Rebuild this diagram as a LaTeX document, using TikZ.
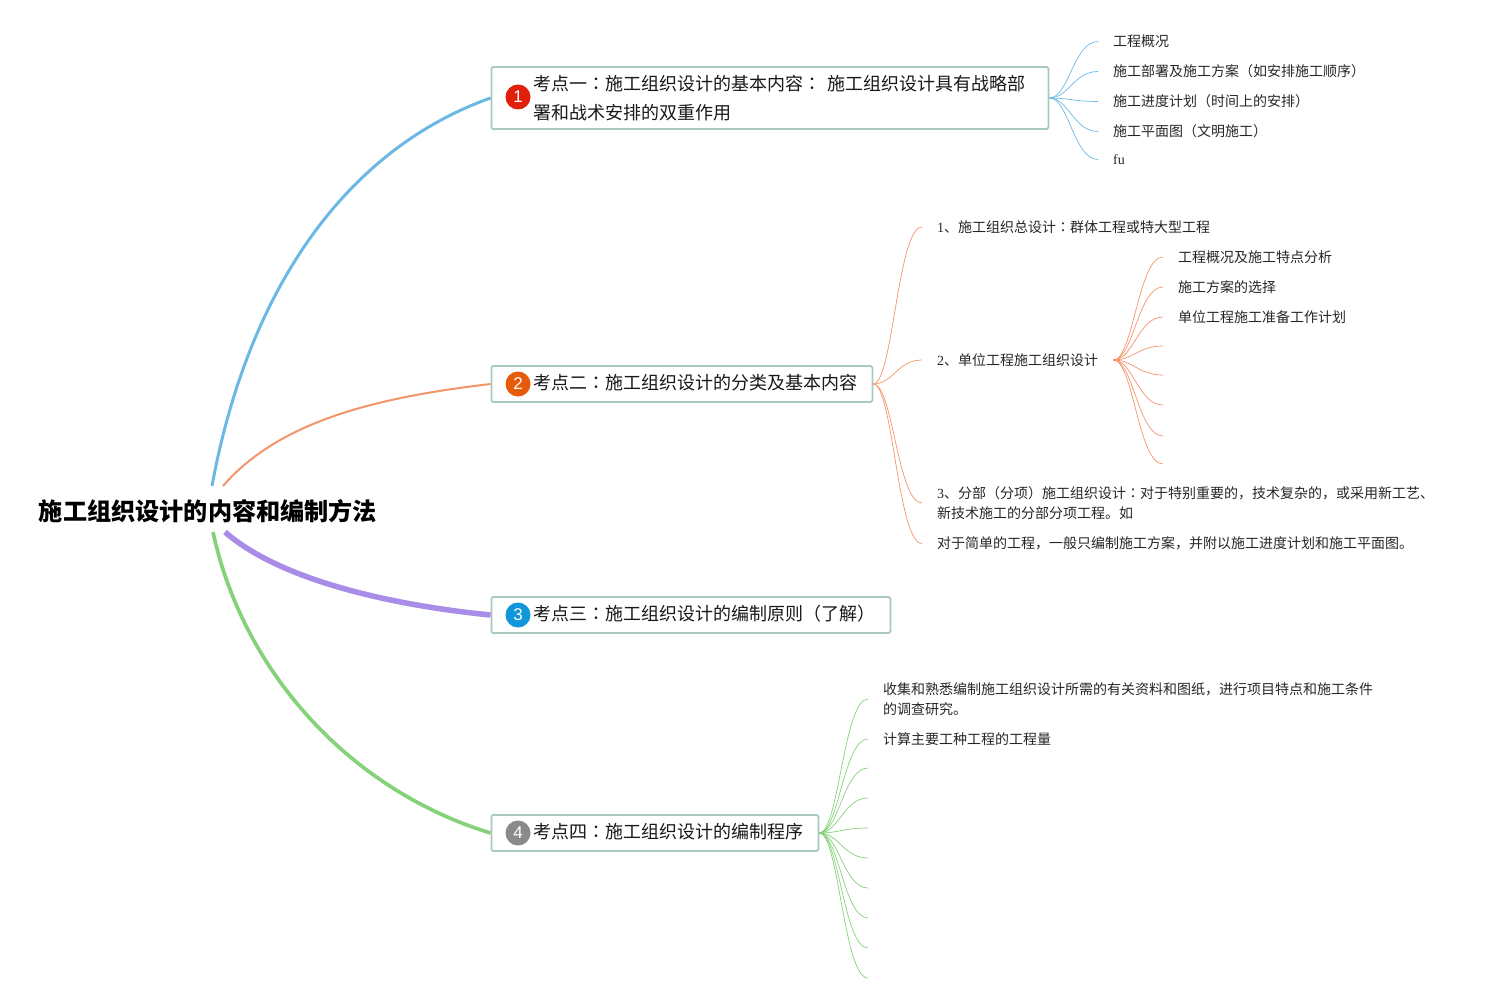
\documentclass[tikz,border=0pt]{standalone}
\usepackage{fontspec}
\setmainfont{Noto Sans CJK SC}
\newfontfamily\latinf{Liberation Serif}
\newfontfamily\digitf{Liberation Sans}
\newfontfamily\tcf{Noto Sans CJK TC}
\usetikzlibrary{calc}
\definecolor{cblue}{HTML}{6BB8E4}
\definecolor{corange}{HTML}{F4946A}
\definecolor{cpurple}{HTML}{A98BE8}
\definecolor{cgreen}{HTML}{85D27A}
\definecolor{cborder}{HTML}{A8C8C0}
\newcommand\ltn[1]{{\latinf #1}}
\newcommand\clo{{\tcf ：}}
\newcommand\fanlink[3]{\draw[#1] let \p1=(#2),\p2=(#3) in (\p1) .. controls ({\x1+0.4*(\x2-\x1)},\y1) and ({\x1+0.5*(\x2-\x1)},\y2) .. (\p2);}
\tikzset{
  topicbox/.style={draw=cborder,line width=1.8pt,rounded corners=1.5pt,fill=white,anchor=west,inner sep=0pt,
    font=\fontsize{18}{26}\selectfont,text=black!90,execute at begin node={\leftskip=42.5pt\relax\vspace*{3.5pt}}},
  badge/.style={circle,minimum size=25pt,inner sep=0pt,text=white,font=\digitf\fontsize{17}{17}\selectfont},
  leaf/.style={anchor=west,inner xsep=15pt,inner ysep=0pt,align=left,text=black!85,font=\fontsize{14}{20}\selectfont},
  rootnode/.style={inner sep=0pt,font=\bfseries\fontsize{24.15}{28}\selectfont,text=black},
  fb/.style={cblue,line width=0.7pt},
  fo/.style={corange,line width=0.7pt},
  fg/.style={cgreen,line width=0.7pt}
}
\begin{document}
\begin{tikzpicture}[x=1pt,y=-1pt]
\useasboundingbox (0,0) rectangle (1497,1003);
% root
\node[rootnode] (root) at (208,511) {施工组织设计的内容和编制方法};
\coordinate (rootA) at (212,486);
\coordinate (rootB) at (223,486);
\coordinate (rootC) at (225,532);
\coordinate (rootD) at (213,532);
% topics
\node[topicbox,text width=557pt,minimum height=62pt] (n1) at (490.5,98) {考点一\clo 施工组织设计的基本内容\clo{} 施工组织设计具有战略部\\署和战术安排的双重作用};
\node[topicbox,text width=381pt,minimum height=36pt] (n2) at (490.5,384) {考点二\clo 施工组织设计的分类及基本内容};
\node[topicbox,text width=399pt,minimum height=36pt] (n3) at (490.5,615) {考点三\clo 施工组织设计的编制原则（了解）};
\node[topicbox,text width=327pt,minimum height=36pt] (n4) at (490.5,833) {考点四\clo 施工组织设计的编制程序};
\node[badge,fill={rgb,255:red,224;green,32;blue,10}] (b1) at (518,97) {1};
\node[badge,fill={rgb,255:red,229;green,91;blue,10}] (b2) at (518,384) {2};
\node[badge,fill={rgb,255:red,18;green,150;blue,219}] (b3) at (518,615) {3};
\node[badge,fill={rgb,255:red,138;green,138;blue,138}] (b4) at (518,833) {4};
% main branches
\draw[cblue,line width=3pt] (rootA) .. controls (248,290) and (345,150) .. (n1.west);
\draw[corange,line width=2pt] (rootB) .. controls (280,420) and (380,397) .. (n2.west);
\draw[cpurple,line width=5.5pt] (rootC) .. controls (280,580) and (390,605) .. (n3.west);
\draw[cgreen,line width=3.7pt] (rootD) .. controls (243,672) and (350,790) .. (n4.west);
% leaves 1
\node[leaf] (a1) at (1098,41.5) {工程概况};
\node[leaf] (a2) at (1098,71.5) {施工部署及施工方案（如安排施工顺序）};
\node[leaf] (a3) at (1098,101.5) {施工进度计划（时间上的安排）};
\node[leaf] (a4) at (1098,131.5) {施工平面图（文明施工）};
\node[leaf] (a5) at (1098,159.5) {\ltn{fu}};
\foreach \t in {a1,a2,a3,a4,a5} {\fanlink{fb}{n1.east}{\t.west}}
% leaves 2
\node[leaf] (c1) at (922,227) {\ltn{1}、施工组织总设计\clo 群体工程或特大型工程};
\node[leaf] (c2) at (922,360) {\ltn{2}、单位工程施工组织设计};
\node[leaf] (c3) at (922,503) {\ltn{3}、分部（分项）施工组织设计\clo 对于特别重要的，技术复杂的，或采用新工艺、\\新技术施工的分部分项工程。如};
\node[leaf] (c4) at (922,543.5) {对于简单的工程，一般只编制施工方案，并附以施工进度计划和施工平面图。};
\foreach \t in {c1,c2,c3,c4} {\fanlink{fo}{n2.east}{\t.west}}
\node[leaf] (d1) at (1163,257) {工程概况及施工特点分析};
\node[leaf] (d2) at (1163,287) {施工方案的选择};
\node[leaf] (d3) at (1163,317) {单位工程施工准备工作计划};
\coordinate (d4) at (1163,346);
\coordinate (d5) at (1163,375);
\coordinate (d6) at (1163,405);
\coordinate (d7) at (1163,436);
\coordinate (d8) at (1163,464);
\foreach \t in {d1.west,d2.west,d3.west,d4,d5,d6,d7,d8} {\fanlink{fo}{c2.east}{\t}}
% leaves 4
\node[leaf] (e1) at (868,699) {收集和熟悉编制施工组织设计所需的有关资料和图纸，进行项目特点和施工条件\\的调查研究。};
\node[leaf] (e2) at (868,739) {计算主要工种工程的工程量};
\coordinate (e3) at (868,768);
\coordinate (e4) at (868,798);
\coordinate (e5) at (868,828);
\coordinate (e6) at (868,858);
\coordinate (e7) at (868,888);
\coordinate (e8) at (868,918);
\coordinate (e9) at (868,948);
\coordinate (e10) at (868,978);
\foreach \t in {e1.west,e2.west,e3,e4,e5,e6,e7,e8,e9,e10} {\fanlink{fg}{n4.east}{\t}}
\end{tikzpicture}
\end{document}
